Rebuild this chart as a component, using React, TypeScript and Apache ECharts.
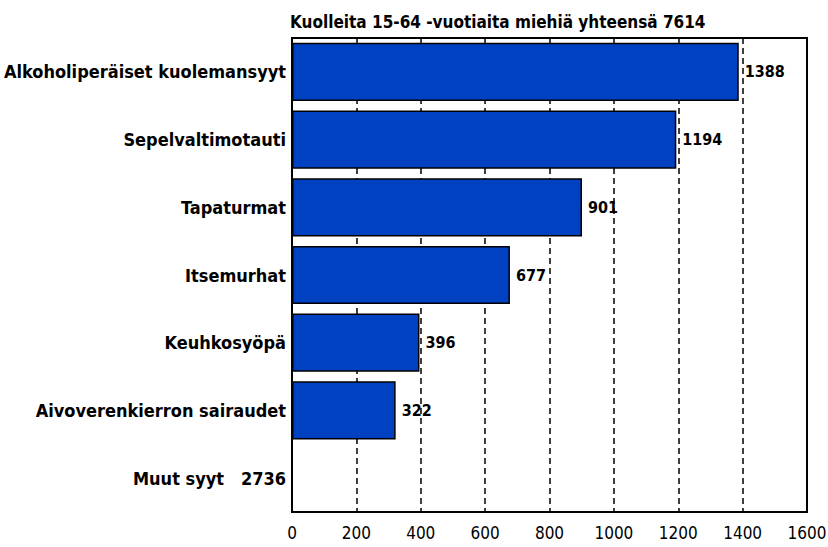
import React, { useEffect, useRef } from "react";
import * as echarts from "echarts";

const titleText = "Kuolleita 15-64 -vuotiaita miehiä yhteensä 7614";
const categories = [
  "Alkoholiperäiset kuolemansyyt",
  "Sepelvaltimotauti",
  "Tapaturmat",
  "Itsemurhat",
  "Keuhkosyöpä",
  "Aivoverenkierron sairaudet",
  "Muut syyt   2736",
];
const values: (number | null)[] = [1388, 1194, 901, 677, 396, 322, null];
const axisMin = 0;
const axisMax = 1600;
const axisStep = 200;

const FONT = "'DejaVu Sans Condensed', 'DejaVu Sans', sans-serif";

export default function App() {
  const ref = useRef<HTMLDivElement>(null);
  useEffect(() => {
    if (!ref.current) return;
    const chart = echarts.init(ref.current, null, { renderer: "svg" });
    chart.setOption({
      animation: false,
      backgroundColor: "#ffffff",
      title: {
        text: titleText,
        left: 290,
        top: 13,
        padding: 0,
        textStyle: { fontFamily: FONT, fontWeight: "bold", fontSize: 17, color: "#000" },
      },
      grid: {
        left: 292,
        right: 21,
        top: 38,
        bottom: 35,
        outerBoundsMode: "none",
        containLabel: false,
        show: true,
        borderColor: "#000",
        borderWidth: 2,
        backgroundColor: "#ffffff",
      },
      xAxis: {
        type: "value",
        min: axisMin,
        max: axisMax,
        interval: axisStep,
        axisLine: { show: true, lineStyle: { color: "#000", width: 2 } },
        axisTick: { show: false },
        axisLabel: {
          color: "#000",
          fontFamily: FONT,
          fontSize: 17,
          margin: 12,
          formatter: (v: number) => String(v),
        },
        splitLine: { show: true, lineStyle: { color: "#000", type: [6, 4], width: 1.5 } },
      },
      yAxis: {
        type: "category",
        data: categories,
        inverse: true,
        axisLine: { show: true, lineStyle: { color: "#000", width: 2 } },
        axisTick: { show: false },
        axisLabel: {
          color: "#000",
          fontFamily: FONT,
          fontWeight: "bold",
          fontSize: 18,
          margin: 6,
        },
        splitLine: { show: false },
      },
      series: [
        {
          type: "bar",
          data: values,
          barWidth: "86%",
          itemStyle: { color: "#0041c2", borderColor: "#000", borderWidth: 1.5 },
          label: {
            show: true,
            position: "right",
            distance: 6,
            color: "#000",
            fontFamily: FONT,
            fontWeight: "bold",
            fontSize: 16,
          },
        },
      ],
    });
    return () => chart.dispose();
  }, []);
  return (
    <div
      ref={ref}
      style={{ position: "fixed", left: 0, top: 0, width: 828, height: 547 }}
    />
  );
}
